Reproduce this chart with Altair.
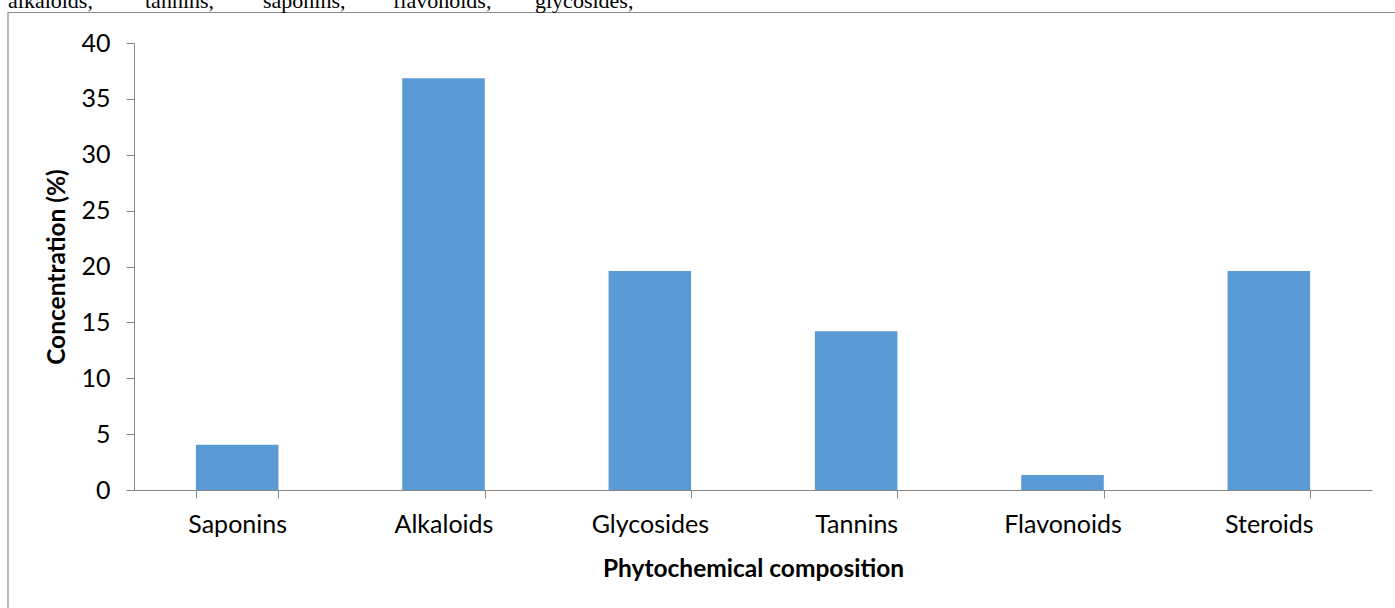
import altair as alt
import pandas as pd

# Phytochemical composition of the extract (%)
compounds = ["Saponins", "Alkaloids", "Glycosides", "Tannins", "Flavonoids", "Steroids"]
concentration = [4.05, 36.85, 19.6, 14.2, 1.35, 19.6]
y_ticks = [0, 5, 10, 15, 20, 25, 30, 35, 40]
caption_words = ["alkaloids,", "tannins,", "saponins,", "flavonoids,", "glycosides,"]

df = pd.DataFrame({"compound": compounds, "value": concentration})
one_row = pd.DataFrame({"k": [0]})

W, H = 1238, 447
PAD = {"left": 134, "top": 43, "right": 23, "bottom": 118}
FONT = "Lato"
AXIS_GRAY = "#868686"

bars = alt.Chart(df).mark_bar(color="#5B9BD5").encode(
    x=alt.X(
        "compound:N",
        sort=compounds,
        scale=alt.Scale(paddingInner=0.6, paddingOuter=0.3),
        axis=alt.Axis(
            title="Phytochemical composition",
            labelAngle=0,
            tickBand="extent",
            tickSize=8,
            labelPadding=14,
            titlePadding=20,
        ),
    ),
    y=alt.Y(
        "value:Q",
        scale=alt.Scale(domain=[0, 40], nice=False),
        axis=alt.Axis(
            title="Concentration (%)",
            values=y_ticks,
            grid=False,
            tickSize=8,
            labelPadding=16,
            titlePadding=11,
        ),
    ),
)

# Outer frame of the figure panel
frame = alt.Chart(one_row).mark_rect(
    fill=None, stroke="#8a8a8a", strokeWidth=1.2
).encode(
    x=alt.value(-126), x2=alt.value(W + 60),
    y=alt.value(-30.5), y2=alt.value(H + 200),
)

# Running text above the figure, partly cut by the page edge
caption_x = [-126, 11, 129, 259, 401]
captions = [
    alt.Chart(one_row).mark_text(
        text=w, font="Liberation Serif", fontSize=22, align="left",
        baseline="alphabetic", color="black",
    ).encode(x=alt.value(cx), y=alt.value(-35.5))
    for w, cx in zip(caption_words, caption_x)
]

chart = alt.layer(frame, bars, *captions).properties(
    width=W, height=H, padding=PAD,
    autosize=alt.AutoSizeParams(type="none"),
    background="white",
).configure_view(
    stroke=None
).configure_axis(
    domainColor=AXIS_GRAY, tickColor=AXIS_GRAY, grid=False,
    labelFont=FONT, labelFontSize=25, labelColor="black",
    titleFont=FONT, titleFontSize=24.5, titleFontWeight="bold", titleColor="black",
)

chart.save("out.html", embed_options={"renderer": "svg", "actions": False})
